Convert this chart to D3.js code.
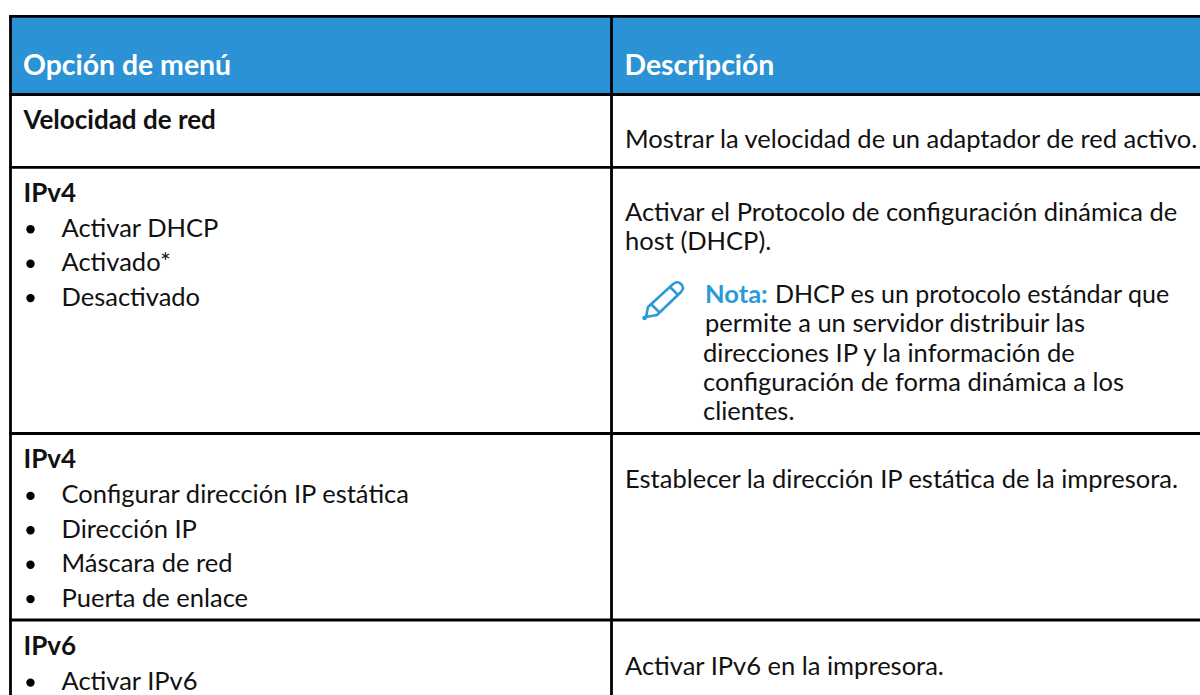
<!DOCTYPE html>
<html>
<head>
<meta charset="utf-8">
<script src="https://cdn.jsdelivr.net/npm/d3@7"></script>
<style>
  html, body { margin: 0; padding: 0; background: #fff; }
  svg { display: block; }
  text { font-family: Lato, sans-serif; font-size: 25.5px; fill: #111; }
</style>
</head>
<body>
<svg width="1200" height="695"></svg>
<script>
const headers = ["Opción de menú", "Descripción"];
const rowTitles = ["Velocidad de red", "IPv4", "IPv4", "IPv6"];
const rowBullets = [
  [],
  ["Activar DHCP", "Activado*", "Desactivado"],
  ["Configurar dirección IP estática", "Dirección IP", "Máscara de red", "Puerta de enlace"],
  ["Activar IPv6"]
];
const rowDescriptions = [
  ["Mostrar la velocidad de un adaptador de red activo."],
  ["Activar el Protocolo de configuración dinámica de", "host (DHCP)."],
  ["Establecer la dirección IP estática de la impresora."],
  ["Activar IPv6 en la impresora."]
];
const noteLabel = "Nota:";
const noteLines = [
  "DHCP es un protocolo estándar que",
  "permite a un servidor distribuir las",
  "direcciones IP y la información de",
  "configuración de forma dinámica a los",
  "clientes."
];

// table layout
const width = 1200, height = 695;
const blue = "#2b92d6", noteBlue = "#2a9ad9";
const tableLeft = 10.5, tableMid = 611.5, tableTop = 16.3, headBottom = 94.5;
const rowLines = [167.3, 433.5, 620];
const titleY = [129.3, 201.7, 468.3, 655];
const descY = [147.7, 220.5, 488, 675];
const bulletStep = 34.4, bulletGap = 35, descStep = 29.3;
const titleX = 23.5, bulletX = 61.5, descX = 625;

const svg = d3.select("svg");

svg.append("rect").attr("x", tableLeft).attr("y", tableTop)
  .attr("width", width - tableLeft).attr("height", headBottom - tableTop)
  .attr("fill", blue);

const hLines = [tableTop, headBottom].concat(rowLines);
svg.selectAll(".hline").data(hLines).join("line")
  .attr("class", "hline")
  .attr("x1", tableLeft - 1.4).attr("x2", width)
  .attr("y1", d => d).attr("y2", d => d)
  .attr("stroke", "#000").attr("stroke-width", 2.8);

svg.selectAll(".vline").data([tableLeft, tableMid]).join("line")
  .attr("class", "vline")
  .attr("x1", d => d).attr("x2", d => d)
  .attr("y1", tableTop).attr("y2", height)
  .attr("stroke", "#000").attr("stroke-width", 2.8);

svg.selectAll(".head").data(headers).join("text")
  .attr("class", "head")
  .attr("x", (d, i) => i ? descX - 0.5 : titleX - 0.5)
  .attr("y", 75)
  .style("fill", "#fff").style("font-weight", 700).style("font-size", "28.4px")
  .text(d => d);

svg.selectAll(".title").data(rowTitles).join("text")
  .attr("class", "title")
  .attr("x", titleX)
  .attr("y", (d, i) => titleY[i])
  .style("font-weight", 700).style("font-size", "26px")
  .text(d => d);

const bullets = svg.selectAll(".bullet")
  .data(rowBullets.flatMap((list, r) => list.map((t, i) => ({ t, y: titleY[r] + bulletGap + i * bulletStep }))))
  .join("g").attr("class", "bullet");
bullets.append("circle").attr("cx", 30.5).attr("cy", d => d.y - 7.4).attr("r", 4.2).attr("fill", "#000");
bullets.append("text").attr("x", bulletX).attr("y", d => d.y).text(d => d.t);

svg.selectAll(".desc")
  .data(rowDescriptions.flatMap((list, r) => list.map((t, i) => ({ t, y: descY[r] + i * descStep }))))
  .join("text")
  .attr("class", "desc")
  .attr("x", descX).attr("y", d => d.y)
  .text(d => d.t);

// note block
svg.append("text").attr("x", 705).attr("y", 303)
  .style("fill", noteBlue).style("font-weight", 700).text(noteLabel);
svg.selectAll(".note").data(noteLines).join("text")
  .attr("class", "note")
  .attr("x", (d, i) => i === 0 ? 775 : (i === 1 ? 705 : 703))
  .attr("y", (d, i) => 303 + i * 29.25)
  .style("font-size", (d, i) => i === 0 ? "25px" : null)
  .text(d => d);

// pencil icon
const icon = svg.append("g").attr("transform", "translate(610,260)")
  .attr("fill", "none").attr("stroke", noteBlue).attr("stroke-width", 2.6).attr("stroke-linejoin", "round");
icon.append("path").attr("d", "M38,47 L62,25 Q67,20 71,24 Q75,28 71,32 L47,55 L36,57 Z");
icon.append("path").attr("d", "M41,44 L50,53 M60,27 L68,35");
icon.append("circle").attr("cx", 34.5).attr("cy", 58).attr("r", 1).attr("fill", noteBlue);
</script>
</body>
</html>
